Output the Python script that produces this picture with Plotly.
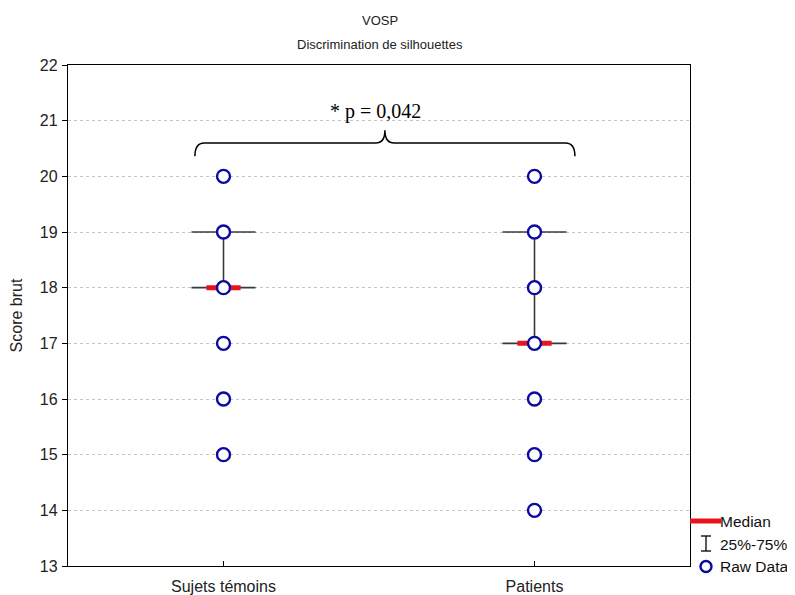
import plotly.graph_objects as go

groups = ["Sujets témoins", "Patients"]
raw_temoins = [15, 16, 17, 18, 19, 20]
raw_patients = [14, 15, 16, 17, 18, 19, 20]
medians = [18, 17]
q25 = [18, 17]
q75 = [19, 19]
y_ticks = [13, 14, 15, 16, 17, 18, 19, 20, 21, 22]
p_label = "* p = 0,042"
title_lines = ["VOSP", "Discrimination de silhouettes"]
legend_labels = ["Median", "25%-75%", "Raw Data"]

raw = [raw_temoins, raw_patients]
CAP = 0.103
MED = 0.055
DARK = "#3a3a3a"
BLUE = "#0a0aa0"
RED = "#e8141c"
SANS = "Liberation Sans, Arial, sans-serif"

fig = go.Figure()

for i in range(len(groups)):
    xs = [i, i, None, i - CAP, i + CAP, None, i - CAP, i + CAP]
    ys = [q25[i], q75[i], None, q25[i], q25[i], None, q75[i], q75[i]]
    fig.add_trace(go.Scatter(x=xs, y=ys, mode="lines",
                             line=dict(color=DARK, width=1.6), showlegend=False, hoverinfo="skip"))
for i in range(len(groups)):
    fig.add_trace(go.Scatter(x=[i - MED, i + MED], y=[medians[i], medians[i]], mode="lines",
                             line=dict(color=RED, width=5), showlegend=False, hoverinfo="skip"))
for i in range(len(groups)):
    fig.add_trace(go.Scatter(x=[i] * len(raw[i]), y=raw[i], mode="markers",
                             marker=dict(symbol="circle", size=13, color="white",
                                         line=dict(color=BLUE, width=2.4)),
                             showlegend=False))

# brace
bl, bc, br = -0.092, 0.519, 1.130
ye, yh, yt = 20.36, 20.6, 20.83
path = (f"M {bl},{ye} Q {bl},{yh} {bl+0.03},{yh} L {bc-0.03},{yh} Q {bc},{yh} {bc},{yt} "
        f"Q {bc},{yh} {bc+0.03},{yh} L {br-0.03},{yh} Q {br},{yh} {br},{ye}")
fig.add_shape(type="path", path=path, xref="x", yref="y", line=dict(color="black", width=1.5))
fig.add_annotation(x=0.49, y=21.17, xref="x", yref="y", text=p_label, showarrow=False,
                   font=dict(family="Liberation Serif, Times New Roman, serif", size=20, color="black"))

# plot spans page px 68..690, py 65..566 (page has an 8px body margin)
def px(x):
    return (x - 68) / 622
def py(y):
    return (566 - y) / 501

for txt, yy in zip(title_lines, [20, 44]):
    fig.add_annotation(xref="paper", yref="paper", x=px(380), y=py(yy), text=txt, showarrow=False,
                       xanchor="center", yanchor="middle", font=dict(family=SANS, size=13, color="#222"))

fig.add_shape(type="line", xref="paper", yref="paper", x0=px(690), x1=px(721), y0=py(521), y1=py(521),
              line=dict(color=RED, width=5))
fig.add_shape(type="line", xref="paper", yref="paper", x0=px(706), x1=px(706), y0=py(536), y1=py(551),
              line=dict(color="black", width=1.3))
fig.add_shape(type="line", xref="paper", yref="paper", x0=px(701), x1=px(711), y0=py(536), y1=py(536),
              line=dict(color="black", width=1.3))
fig.add_shape(type="line", xref="paper", yref="paper", x0=px(701), x1=px(711), y0=py(551), y1=py(551),
              line=dict(color="black", width=1.3))
fig.add_shape(type="circle", xref="paper", yref="paper", x0=px(700.5), x1=px(711.5), y0=py(572), y1=py(561),
              line=dict(color=BLUE, width=2.4), fillcolor="white")
for txt, yy in zip(legend_labels, [521, 544, 566]):
    fig.add_annotation(xref="paper", yref="paper", x=px(718), y=py(yy), text=txt, showarrow=False,
                       xanchor="left", yanchor="middle",
                       font=dict(family=SANS, size=15.5, color="#111"))

fig.update_layout(
    width=787, height=587,
    margin=dict(l=60, r=105, t=57, b=29),
    paper_bgcolor="white", plot_bgcolor="white",
    font=dict(family=SANS, size=15, color="#222"),
    showlegend=False,
)
fig.update_xaxes(range=[-0.5, 1.5], tickvals=[0, 1], ticktext=groups, showgrid=False,
                 showline=True, linecolor="black", linewidth=1.3, mirror=True,
                 ticks="inside", ticklen=5, tickcolor="black", zeroline=False,
                 ticklabelstandoff=6, automargin=False,
                 tickfont=dict(family=SANS, size=16, color="#222"))
fig.update_yaxes(range=[13, 22], tickvals=y_ticks, showgrid=True, gridcolor="#c4c4c4",
                 griddash="dot", gridwidth=1,
                 showline=True, linecolor="black", linewidth=1.3, mirror=True,
                 ticks="outside", ticklen=5, tickcolor="black", zeroline=False,
                 ticklabelstandoff=1, automargin=False,
                 title=dict(text="Score brut", standoff=18, font=dict(family=SANS, size=16, color="#222")),
                 tickfont=dict(family=SANS, size=16, color="#222"))

fig.write_html("out.html")
